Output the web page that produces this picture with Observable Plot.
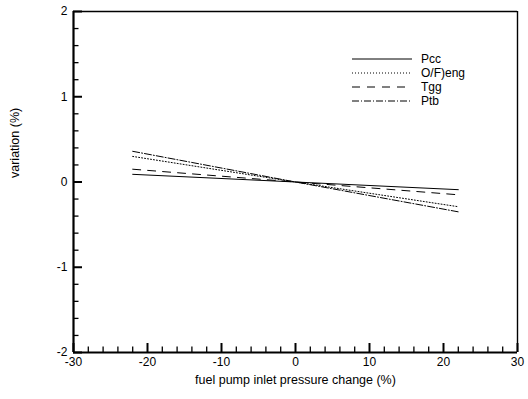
<!DOCTYPE html>
<html><head><meta charset="utf-8">
<script src="https://cdn.jsdelivr.net/npm/d3@7"></script>
<script src="https://cdn.jsdelivr.net/npm/@observablehq/plot@0.6"></script>
<style>
body{margin:0;background:#fff;font-family:"Liberation Sans",Arial,sans-serif;}
#wrap{position:relative;width:528px;height:399px;}
#legend{position:absolute;left:0;top:0;}
</style></head><body><div id="wrap"></div>
<script>
// data
const xValues = [-22, 0, 22];
const seriesNames = ["Pcc", "O/F)eng", "Tgg", "Ptb"];
const pcc   = [0.09, 0, -0.09];
const ofeng = [0.30, 0, -0.29];
const tgg   = [0.15, 0, -0.15];
const ptb   = [0.36, 0, -0.35];
const xTicks = [-30, -20, -10, 0, 10, 20, 30];
const yTicks = [-2, -1, 0, 1, 2];
const xMinor = d3.range(-30, 30.001, 2).filter(v => !xTicks.includes(v));
const yMinor = d3.range(-2, 2.001, 0.2).map(v => +v.toFixed(1)).filter(v => !yTicks.includes(v));

const series = [pcc, ofeng, tgg, ptb];
const dashes = [null, "1,2", "8,7", "7,2,1,2"];

const W = 528, H = 399, mL = 73, mR = 11, mT = 11, mB = 47;
const innerW = W - mL - mR, innerH = H - mT - mB;
const font = "Liberation Sans, Arial, sans-serif";
const fmt = d => String(d);

const lineMarks = series.map((vals, i) =>
  Plot.line(xValues.map((x, j) => ({x, y: vals[j]})), {
    x: "x", y: "y", stroke: "black", strokeWidth: 1,
    strokeDasharray: dashes[i] ?? undefined
  })
);

const chart = Plot.plot({
  width: W, height: H,
  marginLeft: mL, marginRight: mR, marginTop: mT, marginBottom: mB,
  style: {fontFamily: font, fontSize: "12px", color: "black", background: "white"},
  x: {domain: [-30, 30]},
  y: {domain: [-2, 2]},
  marks: [
    ...lineMarks,
    // inward ticks
    Plot.tickY(yTicks, {y: d => d, insetRight: innerW - 9, strokeWidth: 2, stroke: "black"}),
    Plot.tickY(yMinor, {y: d => d, insetRight: innerW - 5.5, strokeWidth: 1.3, stroke: "black"}),
    Plot.tickX(xTicks, {x: d => d, insetTop: innerH - 9, strokeWidth: 2, stroke: "black"}),
    Plot.tickX(xMinor, {x: d => d, insetTop: innerH - 5.5, strokeWidth: 1.3, stroke: "black"}),
    // frame
    Plot.ruleX([30], {stroke: "black", strokeWidth: 1.4}),
    Plot.ruleY([2], {stroke: "black", strokeWidth: 1.6}),
    Plot.ruleX([-30], {stroke: "black", strokeWidth: 2.2}),
    Plot.ruleY([-2], {stroke: "black", strokeWidth: 2.2}),
    Plot.axisY({ticks: yTicks, tickSize: 0, tickPadding: 6, label: null, fontSize: 12, tickFormat: fmt}),
    Plot.axisX({ticks: xTicks, tickSize: 0, tickPadding: 5, label: null, fontSize: 12, tickFormat: fmt}),
    Plot.text(["variation (%)"], {frameAnchor: "left", dx: -59, dy: -4, rotate: -90, fontSize: 12.5, fill: "black"}),
    Plot.text(["fuel pump inlet pressure change (%)"], {frameAnchor: "bottom", dy: 31, fontSize: 12.5, fill: "black"})
  ]
});
document.getElementById("wrap").appendChild(chart);

// legend overlay
const ns = "http://www.w3.org/2000/svg";
const leg = document.createElementNS(ns, "svg");
leg.setAttribute("id", "legend");
leg.setAttribute("width", W); leg.setAttribute("height", H);
const rowY0 = 59, rowDy = 14, lx1 = 352, lx2 = 412, tx = 421;
seriesNames.forEach((name, i) => {
  const y = rowY0 + i * rowDy;
  const l = document.createElementNS(ns, "line");
  l.setAttribute("x1", lx1); l.setAttribute("x2", lx2);
  l.setAttribute("y1", y); l.setAttribute("y2", y);
  l.setAttribute("stroke", "black"); l.setAttribute("stroke-width", 1);
  if (dashes[i]) l.setAttribute("stroke-dasharray", dashes[i]);
  leg.appendChild(l);
  const t = document.createElementNS(ns, "text");
  t.setAttribute("x", tx); t.setAttribute("y", y);
  t.setAttribute("dy", "0.35em");
  t.setAttribute("font-family", font); t.setAttribute("font-size", 12);
  t.textContent = name;
  leg.appendChild(t);
});
document.getElementById("wrap").appendChild(leg);
</script></body></html>
